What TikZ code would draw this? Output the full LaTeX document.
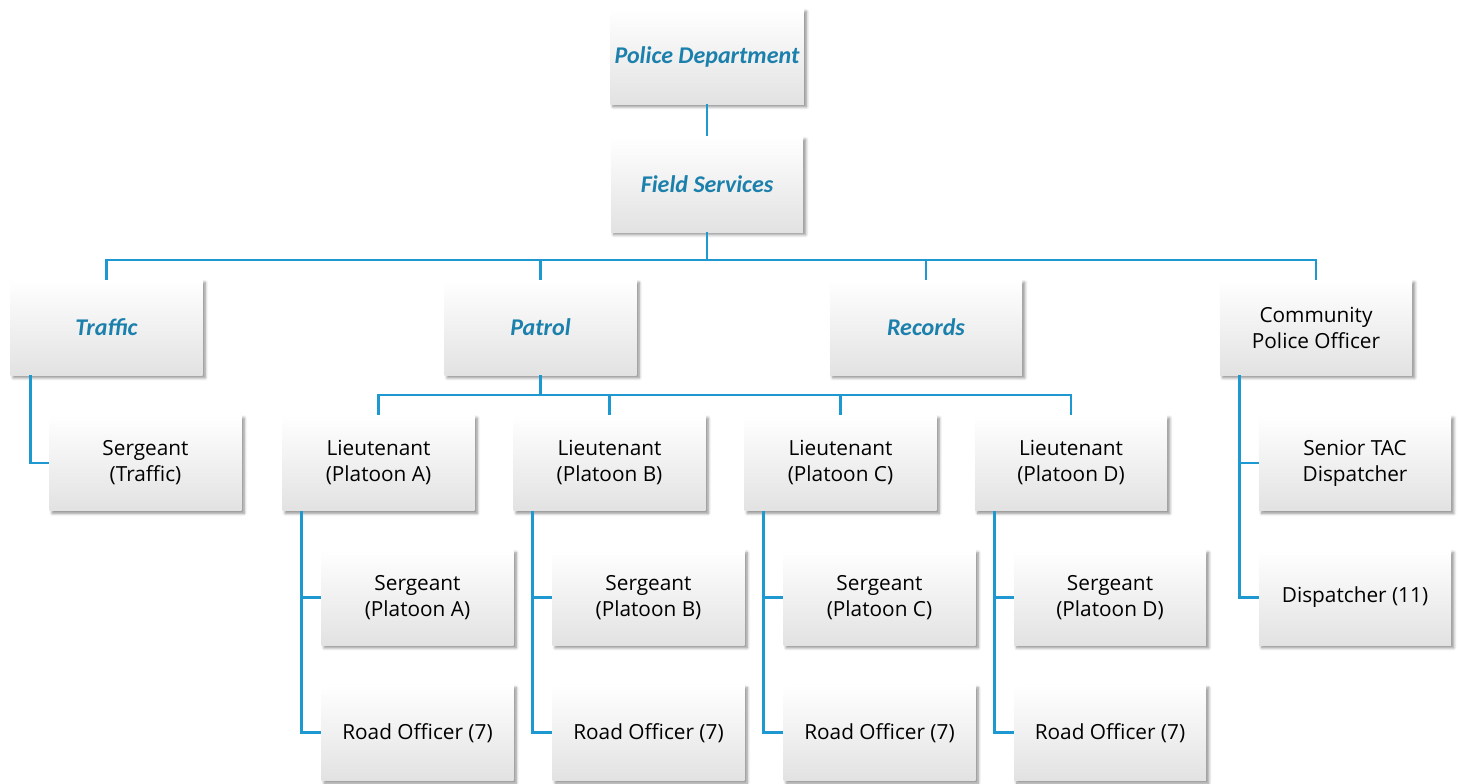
\documentclass[tikz,border=0pt]{standalone}
\usepackage{fontspec}
\setmainfont{Open Sans}
\newfontfamily\headfont{Carlito}
\usepackage{tikz}
\usetikzlibrary{positioning, calc, shadows.blur}

\definecolor{linkblue}{RGB}{30,152,208}
\definecolor{headblue}{RGB}{28,128,172}
\definecolor{boxgray}{RGB}{226,226,226}

\begin{document}
\begin{tikzpicture}[x=0.75pt, y=0.75pt,
  unit/.style={rectangle, minimum width=144pt, minimum height=71.5pt, align=center,
    top color=white, middle color=white, bottom color=boxgray,
    blur shadow={shadow xshift=2pt, shadow yshift=-2pt, shadow blur steps=6, shadow opacity=45},
    font=\fontsize{15.6}{19.5}\selectfont},
  head/.style={unit, text=headblue, font=\headfont\fontsize{18}{21}\selectfont\bfseries\itshape},
  link/.style={draw=linkblue, line width=2.2pt}]
  \useasboundingbox (0,0) rectangle (1458,-784);

  % top of the chain
  \node[head] (pd) at (707,-56.5) {Police Department};
  \node[head, below=24pt of pd] (fs) {Field Services};

  % divisions
  \node[head] (traffic) at (106.5,-327.5) {Traffic};
  \node[head] (patrol) at (540.5,-327.5) {Patrol};
  \node[head] (records) at (926,-327.5) {Records};
  \node[unit] (community) at (1316,-327.5) {Community\\Police Officer};

  \node[unit] (sgtT) at (145.5,-463) {Sergeant\\(Traffic)};
  \node[unit] (tac) at (1355,-463) {Senior TAC\\Dispatcher};
  \node[unit, below=29pt of tac] (disp) {Dispatcher (11)};

  % platoons
  \foreach \p/\x in {A/378.5, B/609.5, C/840.5, D/1071} {
    \node[unit] (lt\p) at (\x,-463) {Lieutenant\\(Platoon \p)};
    \node[unit, below=29pt of lt\p, xshift=29.25pt] (sgt\p) {Sergeant\\(Platoon \p)};
    \node[unit, below=29.5pt of sgt\p] (road\p) {Road Officer (7)};
  }

  \coordinate (bus) at (707,-260);
  \coordinate (pbus) at (540.5,-395);

  \draw[link] (pd) -- (fs);
  \draw[link] (fs.south) -- (bus);
  \foreach \n in {traffic, patrol, records, community}
    \draw[link] (bus) -| (\n.north);
  \draw[link] (patrol.south) -- (pbus);
  \foreach \p in {A, B, C, D} {
    \draw[link] (pbus) -| (lt\p.north);
    \draw[link] ([xshift=14.5pt]lt\p.south west) |- (sgt\p.west);
    \draw[link] ([xshift=14.5pt]lt\p.south west) |- (road\p.west);
  }
  \draw[link] ([xshift=15pt]traffic.south west) |- (sgtT.west);
  \draw[link] ([xshift=15pt]community.south west) |- (tac.west);
  \draw[link] ([xshift=15pt]community.south west) |- (disp.west);
\end{tikzpicture}
\end{document}
